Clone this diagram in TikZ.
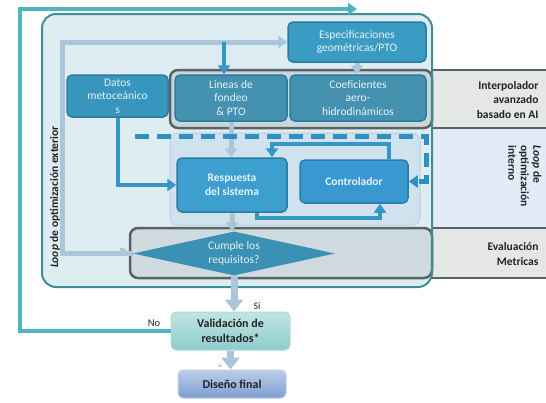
\documentclass[tikz,border=0pt]{standalone}
\usepackage{fontspec}
\setmainfont{Carlito}
\usetikzlibrary{arrows.meta,positioning,shapes.geometric}
\definecolor{loopteal}{HTML}{4DB5BF}
\definecolor{mainfill}{HTML}{DDEDF1}
\definecolor{mainedge}{HTML}{3E8E96}
\definecolor{bandgray}{HTML}{E5E7E7}
\definecolor{bandedge}{HTML}{596264}
\definecolor{bandin}{HTML}{CAD7DB}
\definecolor{innerblue}{HTML}{E2ECF8}
\definecolor{innerrect}{HTML}{CFE2EE}
\definecolor{boxedge}{HTML}{2B7CA2}
\definecolor{boxtext}{HTML}{E6F2F8}
\definecolor{litearrow}{HTML}{AAC6DA}
\definecolor{bluearrow}{HTML}{3697C6}
\definecolor{dashblue}{HTML}{2F8FC0}
\definecolor{bandtext}{HTML}{222222}
\definecolor{specfill}{HTML}{3A9CC2}
\definecolor{lineafill}{HTML}{4592B0}
\definecolor{datosfill}{HTML}{3895BD}
\definecolor{respfill}{HTML}{3D9FD0}
\definecolor{ctrlfill}{HTML}{3A98D0}
\definecolor{cumplefill}{HTML}{3A91B3}
\definecolor{valtop}{HTML}{C2E4E4}
\definecolor{valbot}{HTML}{8FCCCC}
\definecolor{distop}{HTML}{BACDE8}
\definecolor{disbot}{HTML}{7E9FD2}

\begin{document}
\begin{tikzpicture}[x=1pt,y=-1pt,>={Triangle[width=12pt,length=9pt]},
  box/.style={draw=boxedge,line width=1.5pt,rounded corners=5pt,text=boxtext,align=center,
    inner sep=1pt,font=\fontsize{11.5}{13.5}\selectfont},
  lite/.style={->,draw=litearrow,line width=5pt},
  bigarrow/.style={-{Triangle[width=18pt,length=12pt]},draw=litearrow,line width=7pt},
  blu/.style={->,draw=bluearrow,line width=4pt},
  bandlabel/.style={font=\fontsize{11.5}{14.5}\selectfont\bfseries,text=bandtext,align=right,anchor=east},
  endbox/.style={rounded corners=5pt,align=center,text=bandtext,line width=1pt,
    font=\fontsize{12}{14.5}\selectfont\bfseries}]
 \useasboundingbox (0,0) rectangle (546,402);
 % bands on the right
 \fill[bandgray] (420,70) rectangle (546,128);
 \fill[innerblue] (420,129) rectangle (546,227);
 \fill[bandgray] (420,228) rectangle (546,278);
 \draw[bandedge,line width=2pt] (432,70) -- (546,70) (432,128) -- (546,128)
   (432,228) -- (546,228) (432,278) -- (546,278);
 % main box
 \fill[mainfill,rounded corners=14pt] (42,14) rectangle (432,287);
 \filldraw[fill=bandin,draw=bandedge,line width=2.5pt,rounded corners=8pt] (170,70) rectangle (432,128);
 \filldraw[fill=innerrect,draw=litearrow!70,line width=1.5pt,rounded corners=8pt] (170,133) rectangle (420,225);
 \filldraw[fill=bandin!90,draw=bandedge,line width=2.5pt,rounded corners=8pt] (130,228) rectangle (432,278);
 \draw[mainedge,line width=2pt,rounded corners=14pt] (42,14) rectangle (432,287);

 % blocks
 \node[box,fill=specfill,minimum width=138pt,minimum height=40pt] (espec) at (357,42)
   {Especificaciones\\geométricas/PTO};
 \node[box,fill=lineafill,minimum width=112pt,minimum height=46pt] (lineas) at (231,98)
   {Lineas de\\fondeo\\\& PTO};
 \node[box,fill=lineafill,minimum width=136pt,minimum height=46pt] (coef) at (358,98)
   {Coeficientes\\aero-\\hidrodinámicos};
 \node[box,fill=datosfill,minimum width=101pt,minimum height=42pt] (datos) at (117.5,96)
   {Datos\\metoceánico\\s};
 \node[box,fill=respfill,minimum width=110pt,minimum height=54pt,font=\fontsize{11.5}{13.5}\selectfont\bfseries] (resp) at (232,185)
   {Respuesta\\del sistema};
 \node[box,fill=ctrlfill,minimum width=108pt,minimum height=43pt,font=\fontsize{11.5}{13.5}\selectfont\bfseries] (ctrl) at (354,181.5)
   {Controlador};
 \node[diamond,aspect=4.6,inner sep=0pt,minimum width=202pt,minimum height=44pt,fill=cumplefill,
   text=boxtext,align=center,font=\fontsize{11.5}{13.5}\selectfont] (cumple) at (234,253.5)
   {Cumple los\\requisitos?};
 \node[endbox,top color=valtop,bottom color=valbot,draw=white!70!teal,minimum width=119pt,minimum height=38pt] (valid) at (230.5,331)
   {Validación de\\resultados*};
 \node[endbox,top color=distop,bottom color=disbot,draw=disbot!50!white,minimum width=108pt,minimum height=28pt] (diseno) at (232,384)
   {Diseño final};

 % band labels
 \node[bandlabel] (interp) at (542,100) {Interpolador\\avanzado\\basado en AI};
 \node[bandlabel] (evalm) at (542,254) {Evaluación\\Metricas};
 \node[rotate=-90,anchor=north west,align=left,text=bandtext,
   font=\fontsize{11.5}{12.5}\selectfont\bfseries] (innerlbl) at (545,142)
   {\textit{Loop} de\\optimización\\interno};
 \node[rotate=90,text=bandtext,font=\fontsize{11.5}{13}\selectfont\bfseries] (outerlbl) at (55,197)
   {\textit{Loop} de optimización exterior};

 % connectors
 \draw[loopteal,line width=4pt,->] (valid.west) -| (20,9) -- (357,9);
 \draw[lite] (cumple.west) -- (62,253.5) |- (espec.west);
 \coordinate (brk) at (224,42);
 \draw[blu] (brk) -- (brk |- lineas.north);
 \draw[lite] (espec.south) -- (espec.south |- coef.north);
 \draw[lite] (lineas.south) -- (lineas.south |- resp.north);
 \draw[blu] (datos.south) |- (resp.west);
 \draw[blu] ([xshift=-20pt]ctrl.north east) -- ++(0,-15) -| ([xshift=40pt]resp.north);
 \draw[blu] ([xshift=25pt]resp.south) -- ++(0,5) -| ([xshift=26pt]ctrl.south);
 \draw[->,dashblue,line width=5pt,dash pattern=on 14pt off 8pt] (135,136) -- (426,136) -- (426,181.5) -- (ctrl.east);
 \draw[lite] (resp.south) -- (resp.south |- cumple.north);
 \draw[bigarrow] (cumple.south) -- (cumple.south |- valid.north);
 \draw[bigarrow] (valid.south) -- (valid.south |- diseno.north);

 % small labels
 \node[font=\fontsize{5}{6}\selectfont,text=gray] (noin) at (123,250) {No};
 \node[font=\fontsize{10.5}{12}\selectfont,text=bandtext] (noout) at (154,323) {No};
 \node[font=\fontsize{10}{12}\selectfont,text=bandtext] (siA) at (257,306) {Si};
 \node[font=\fontsize{5}{6}\selectfont,text=gray] (siB) at (220,366) {Si};
\end{tikzpicture}
\end{document}
